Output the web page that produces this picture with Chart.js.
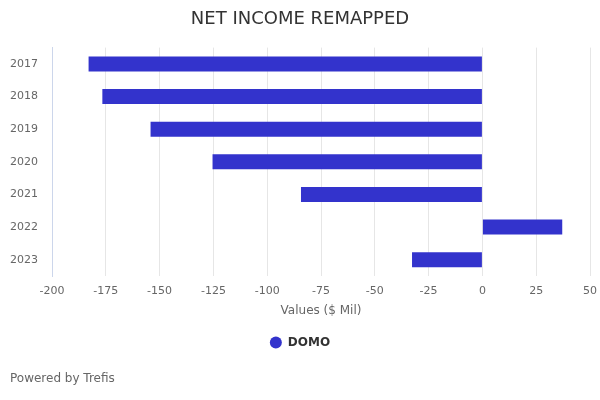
<!DOCTYPE html>
<html>
<head>
<meta charset="utf-8">
<script src="https://cdn.jsdelivr.net/npm/chart.js@4.4.0/dist/chart.umd.min.js"></script>
<style>
  html, body { margin: 0; padding: 0; background: #fff; }
  #wrap { width: 600px; height: 400px; position: relative; }
</style>
</head>
<body>
<div id="wrap"><canvas id="chart"></canvas></div>
<script>
'use strict';

// data
const years = ['2017', '2018', '2019', '2020', '2021', '2022', '2023'];
const netIncome = [-183, -176.6, -154.2, -125.4, -84.3, 37.1, -32.7];
const seriesName = 'DOMO';
const xTicks = [-200, -175, -150, -125, -100, -75, -50, -25, 0, 25, 50];

const FONT = "'DejaVu Sans', sans-serif";
Chart.defaults.font.family = FONT;
Chart.defaults.animation = false;

new Chart(document.getElementById('chart'), {
  type: 'bar',
  data: {
    labels: years,
    datasets: [{
      label: seriesName,
      data: netIncome,
      backgroundColor: '#3333cc',
      borderWidth: 0,
      categoryPercentage: 1,
      barPercentage: 0.46
    }]
  },
  options: {
    indexAxis: 'y',
    responsive: true,
    maintainAspectRatio: false,
    layout: { padding: { left: 10, right: 10 } },
    plugins: {
      title: {
        display: true,
        text: 'NET INCOME REMAPPED',
        color: '#333333',
        font: { size: 18, weight: 'normal' },
        padding: { top: 9, bottom: 17 }
      },
      subtitle: {
        display: true,
        position: 'bottom',
        align: 'start',
        text: 'Powered by Trefis',
        color: '#666666',
        font: { size: 12, weight: 'normal' },
        padding: { top: 13, bottom: 14 }
      },
      legend: {
        position: 'bottom',
        labels: {
          usePointStyle: true,
          pointStyle: 'circle',
          boxWidth: 12,
          boxHeight: 8.5,
          color: '#333333',
          font: { size: 12, weight: 'bold' },
          padding: 10
        }
      },
      tooltip: { enabled: false }
    },
    scales: {
      x: {
        min: xTicks[0],
        max: xTicks[xTicks.length - 1],
        afterBuildTicks: (axis) => { axis.ticks = xTicks.map(v => ({ value: v })); },
        afterFit: (axis) => { axis.paddingRight = 0; },
        grid: { color: '#e6e6e6', drawTicks: false },
        border: { display: false },
        ticks: { color: '#666666', font: { size: 11 }, padding: 9, maxRotation: 0 },
        title: {
          display: true,
          text: 'Values ($ Mil)',
          color: '#666666',
          font: { size: 12 },
          padding: { top: -4, bottom: 9 }
        }
      },
      y: {
        afterFit: (axis) => { axis.width = 42; },
        grid: { display: false, drawTicks: false },
        border: { display: true, color: '#ccd6eb', width: 1 },
        ticks: { color: '#666666', font: { size: 11 }, padding: 14 }
      }
    }
  }
});
</script>
</body>
</html>
